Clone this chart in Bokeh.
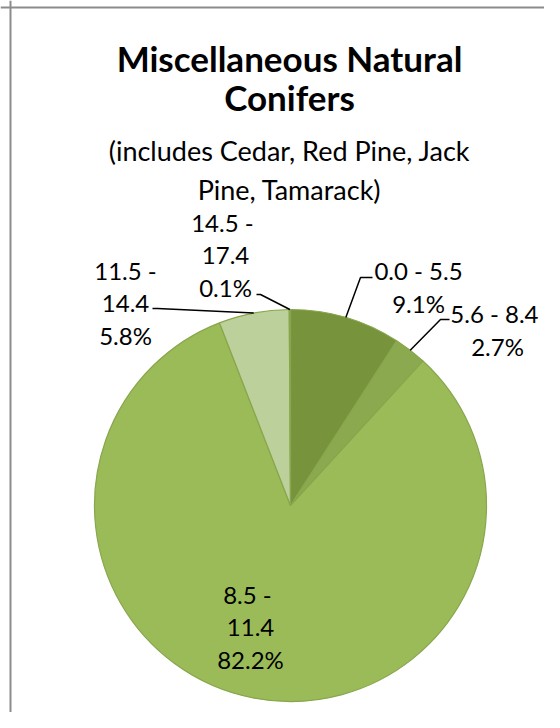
import math
from bokeh.plotting import figure
from bokeh.models import ColumnDataSource, Range1d, Span
from bokeh.core.properties import value
from bokeh.embed import file_html
from bokeh.resources import INLINE

# ---- data ----
categories = ["0.0 - 5.5", "5.6 -  8.4", "8.5  - 11.4", "11.5 - 14.4", "14.5  - 17.4"]
wrap_category = [False, False, True, True, True]
percent = [9.1, 2.7, 82.2, 5.8, 0.1]
colors = ["#77933C", "#8BA94F", "#9BBB59", "#BBD09A", "#D4E3BA"]
title_lines = ["Miscellaneous Natural", "Conifers"]
subtitle_lines = ["(includes Cedar, Red Pine, Jack", "Pine, Tamarack)"]

# ---- layout (pixels, top-left origin) ----
W, H = 544, 712
def X(sx): return sx
def Y(sy): return H - sy

cx, cy, R = X(290), Y(505), 196
label_first_line = [(418, 270), (497, 313), (250, 594), (125, 270), (225, 222)]
leader_elbow = [[(360, 277), (372, 277)], [(440, 319), (449, 319)], None,
                [(157, 308), (152, 308)], [(260, 294), (256, 294)]]
LINE = 32.5
FONT = value("Lato")

p = figure(width=W, height=H, x_range=Range1d(0, W), y_range=Range1d(0, H),
           output_backend="svg", toolbar_location=None, min_border=0,
           x_axis_type=None, y_axis_type=None)
p.grid.visible = False
p.outline_line_color = None
p.background_fill_color = "white"
p.border_fill_color = "white"

# frame borders (left/top, as in the reference)
p.add_layout(Span(location=10, dimension="height", line_color="#8c8c8c", line_width=2))
p.add_layout(Span(location=Y(7), dimension="width", line_color="#8c8c8c", line_width=2))

total = sum(percent)
starts, ends, mids = [], [], []
cum = 0.0
for v in percent:
    a0 = math.pi / 2 - 2 * math.pi * cum / total
    a1 = math.pi / 2 - 2 * math.pi * (cum + v) / total
    starts.append(a0); ends.append(a1); mids.append((a0 + a1) / 2)
    cum += v

src = ColumnDataSource(dict(start=starts, end=ends, color=colors, cat=categories, pct=percent))
p.wedge(x=cx, y=cy, radius=R, start_angle="start", end_angle="end", direction="clock",
        fill_color="color", line_color="#88A64C", line_width=1.2, source=src)

# leader lines
xs, ys = [], []
for i, m in enumerate(mids):
    if leader_elbow[i] is None:
        continue
    ex, ey = cx + R * math.cos(m), cy + R * math.sin(m)
    px = [ex] + [X(a) for a, b in leader_elbow[i]]
    py = [ey] + [Y(b) for a, b in leader_elbow[i]]
    xs.append(px); ys.append(py)
p.multi_line(xs=xs, ys=ys, line_color="black", line_width=1.5)

# data labels
tx, ty, tt = [], [], []
for i, cat in enumerate(categories):
    if wrap_category[i]:
        a, b = cat.split("- ")
        lines = [a + "-", b.strip()]
    else:
        lines = [cat]
    lines.append(f"{percent[i]:.1f}%")
    sx, sy = label_first_line[i]
    for k, t in enumerate(lines):
        tx.append(X(sx)); ty.append(Y(sy + k * LINE)); tt.append(t)
p.text(x=tx, y=ty, text=tt, text_font=FONT, text_font_size="24px", text_color="black",
       text_align="center", text_baseline="middle")

# title & subtitle
p.text(x=[X(289)] * 2, y=[Y(57), Y(96)], text=title_lines, text_font=FONT,
       text_font_size="35px", text_font_style="bold", text_color="black",
       text_align="center", text_baseline="middle")
p.text(x=[X(289)] * 2, y=[Y(150), Y(189)], text=subtitle_lines, text_font=FONT,
       text_font_size="27px", text_color="black",
       text_align="center", text_baseline="middle")

open("out.html", "w").write(file_html(p, INLINE))
